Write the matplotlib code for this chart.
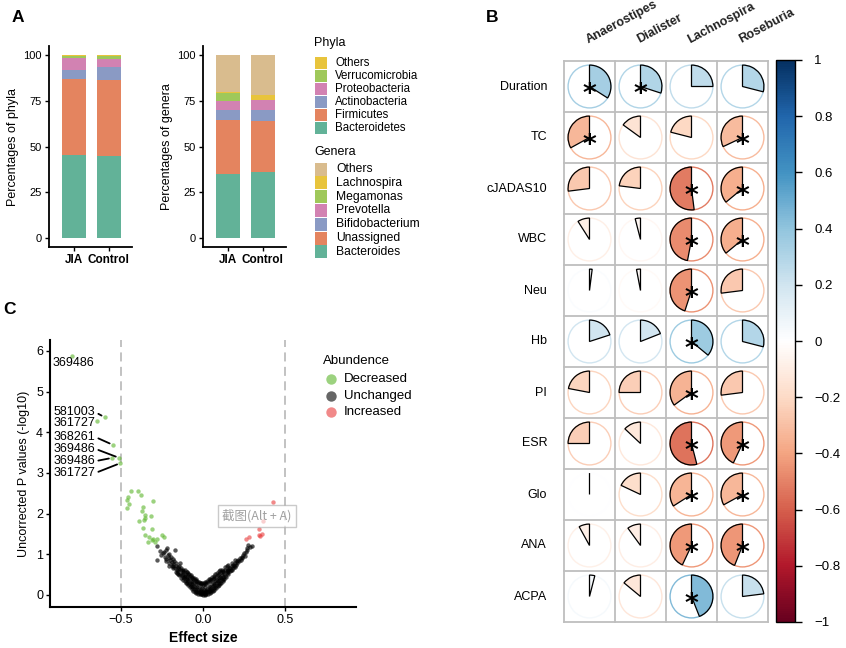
import numpy as np
import matplotlib
matplotlib.use('Agg')
import matplotlib.pyplot as plt
from matplotlib.patches import Wedge, Circle, Rectangle
from matplotlib.colors import LinearSegmentedColormap, Normalize
from matplotlib.cm import ScalarMappable

plt.rcParams['font.family'] = ['Liberation Sans', 'DejaVu Sans']

W, H = 846, 648

# ---------------- panel A data ----------------
groups = ['JIA', 'Control']
phyla = ['Bacteroidetes', 'Firmicutes', 'Actinobacteria', 'Proteobacteria', 'Verrucomicrobia', 'Others']
phyla_jia = [45.2, 41.6, 5.2, 6.7, 0.9, 0.4]
phyla_ctrl = [44.8, 41.5, 7.1, 4.4, 1.7, 0.5]
phyla_cols = ['#62B298', '#E4845F', '#8A9AC4', '#D282B2', '#9FC85A', '#E8C43C']

genera = ['Bacteroides', 'Unassigned', 'Bifidobacterium', 'Prevotella', 'Megamonas', 'Lachnospira', 'Others']
genera_jia = [35.1, 29.6, 5.1, 5.0, 4.5, 0.3, 20.4]
genera_ctrl = [35.8, 28.0, 6.0, 5.5, 0.3, 2.5, 21.9]
genera_cols = ['#62B298', '#E4845F', '#8A9AC4', '#D282B2', '#9FC85A', '#E8C43C', '#D9BC8E']

# ---------------- panel B data ----------------
taxa = ['Anaerostipes', 'Dialister', 'Lachnospira', 'Roseburia']
clin = ['Duration', 'TC', 'cJADAS10', 'WBC', 'Neu', 'Hb', 'PI', 'ESR', 'Glo', 'ANA', 'ACPA']
corr = [[0.34, 0.30, 0.25, 0.29],
        [-0.33, -0.15, -0.21, -0.32],
        [-0.27, -0.23, -0.52, -0.36],
        [-0.09, -0.04, -0.47, -0.36],
        [0.02, -0.03, -0.45, -0.27],
        [0.20, 0.19, 0.36, 0.29],
        [-0.22, -0.25, -0.35, -0.27],
        [-0.25, -0.13, -0.54, -0.43],
        [0.00, -0.18, -0.34, -0.33],
        [-0.08, -0.10, -0.43, -0.44],
        [0.04, -0.14, 0.44, 0.23]]
sig = [[1, 1, 0, 0],
       [1, 0, 0, 1],
       [0, 0, 1, 1],
       [0, 0, 1, 1],
       [0, 0, 1, 0],
       [0, 0, 1, 0],
       [0, 0, 1, 0],
       [0, 0, 1, 1],
       [0, 0, 1, 1],
       [0, 0, 1, 1],
       [0, 0, 1, 0]]
cb_ticks = [1, 0.8, 0.6, 0.4, 0.2, 0, -0.2, -0.4, -0.6, -0.8, -1]
cb_labels = ['1', '0.8', '0.6', '0.4', '0.2', '0', '\u22120.2', '\u22120.4', '\u22120.6', '\u22120.8', '\u22121']

# ---------------- panel C data ----------------
dec_x = [-0.797, -0.600, -0.646, -0.550, -0.512, -0.553, -0.504,
         -0.439, -0.398, -0.459, -0.466, -0.452, -0.466, -0.378, -0.305, -0.363, -0.369,
         -0.317, -0.356, -0.352, -0.362, -0.388, -0.363, -0.313, -0.352, -0.327, -0.303,
         -0.283, -0.293, -0.333, -0.248, -0.240, -0.314]
dec_y = [5.87, 4.37, 4.28, 3.69, 3.37, 3.37, 3.24,
         2.56, 2.56, 2.40, 2.33, 2.24, 2.14, 2.45, 2.32, 2.15, 2.06,
         1.94, 1.97, 1.88, 1.84, 1.81, 1.65, 1.61, 1.47, 1.43, 1.37,
         1.37, 1.31, 1.30, 1.47, 1.43, 1.34]
inc_x = [0.429, 0.366, 0.341, 0.339, 0.362, 0.350, 0.280, 0.260]
inc_y = [2.29, 1.81, 1.61, 1.47, 1.49, 1.45, 1.43, 1.38]
unch_x = [-0.283, -0.262, -0.280, -0.221, -0.171, -0.232, -0.200, -0.180, -0.140, -0.160,
          -0.110, -0.245, -0.255, -0.235, -0.215, -0.210, -0.195, -0.190, -0.185, -0.175,
          -0.170, -0.165, -0.160, -0.155, -0.150, -0.145, -0.140, -0.135, -0.130, -0.125,
          -0.120, -0.205, -0.225, -0.190, -0.150,
          -0.12, -0.12, -0.11, -0.11, -0.11, -0.10, -0.10, -0.10, -0.09, -0.09, -0.09,
          -0.08, -0.08, -0.08, -0.07, -0.07, -0.07, -0.06, -0.06, -0.06, -0.05, -0.05, -0.05,
          -0.04, -0.04, -0.04, -0.03, -0.03, -0.03, -0.02, -0.02, -0.02, -0.01, -0.01, -0.01,
          0.00, 0.00, 0.00, 0.01, 0.01, 0.01, 0.02, 0.02, 0.02, 0.03, 0.03, 0.03,
          0.04, 0.04, 0.04, 0.05, 0.05, 0.05, 0.06, 0.06, 0.06, 0.07, 0.07, 0.07,
          0.08, 0.08, 0.08, 0.09, 0.09, 0.09, 0.10, 0.10, 0.10, 0.11, 0.11, 0.11,
          0.12, 0.12, 0.12,
          -0.115, -0.095, -0.085, -0.075, -0.065, -0.055, -0.045, -0.035, -0.025, -0.015,
          -0.005, 0.005, 0.015, 0.025, 0.035, 0.045, 0.055, 0.065, 0.075, 0.085, 0.095,
          0.105, 0.115, 0.015, -0.005,
          0.130, 0.130, 0.135, 0.140, 0.144, 0.150, 0.150, 0.155, 0.160, 0.165, 0.165,
          0.170, 0.175, 0.180, 0.185, 0.190, 0.195, 0.200, 0.205, 0.210, 0.215, 0.220,
          0.226, 0.230, 0.235, 0.240, 0.246, 0.250, 0.255, 0.260, 0.266, 0.270, 0.276,
          0.285, 0.297,
          -0.125, -0.125, -0.105, -0.105, -0.095, -0.095, -0.085, -0.085, -0.075, -0.075,
          -0.065, -0.065, -0.055, -0.055, -0.045, -0.045, -0.035, -0.035, -0.025, -0.025,
          -0.015, -0.015, -0.005, -0.005, 0.005, 0.005, 0.015, 0.015, 0.025, 0.025,
          0.035, 0.035, 0.045, 0.045, 0.055, 0.055, 0.065, 0.065, 0.075, 0.075,
          0.085, 0.085, 0.095, 0.095, 0.105, 0.105, 0.115, 0.115, 0.125, 0.125,
          0.135, 0.135, 0.145, 0.145, 0.155, 0.155, 0.175, 0.175, 0.195, 0.195,
          -0.135, -0.135, -0.145, -0.145, -0.165, -0.165, -0.185, -0.185, -0.205, -0.205,
          -0.225, -0.225]
unch_y = [1.19, 1.09, 0.86, 1.15, 1.10, 0.94, 0.86, 0.70, 0.78, 0.53,
          0.45, 1.02, 0.98, 1.06, 0.98, 0.90, 0.92, 0.80, 0.76, 0.82,
          0.66, 0.72, 0.62, 0.68, 0.58, 0.64, 0.52, 0.60, 0.48, 0.55,
          0.44, 0.78, 0.88, 0.72, 0.50,
          0.52, 0.62, 0.34, 0.47, 0.60, 0.28, 0.40, 0.55, 0.24, 0.36, 0.50,
          0.19, 0.30, 0.46, 0.14, 0.26, 0.42, 0.10, 0.22, 0.40, 0.07, 0.18, 0.36,
          0.05, 0.15, 0.33, 0.03, 0.12, 0.30, 0.02, 0.10, 0.28, 0.01, 0.09, 0.26,
          0.00, 0.08, 0.25, 0.01, 0.09, 0.27, 0.02, 0.10, 0.29, 0.03, 0.12, 0.31,
          0.05, 0.14, 0.34, 0.07, 0.17, 0.37, 0.10, 0.21, 0.39, 0.13, 0.25, 0.42,
          0.17, 0.29, 0.45, 0.21, 0.33, 0.49, 0.25, 0.37, 0.52, 0.30, 0.41, 0.55,
          0.34, 0.45, 0.58,
          0.42, 0.33, 0.42, 0.22, 0.32, 0.15, 0.26, 0.08, 0.20, 0.05,
          0.16, 0.04, 0.18, 0.06, 0.22, 0.09, 0.27, 0.16, 0.34, 0.23, 0.42,
          0.30, 0.48, 0.00, 0.02,
          0.40, 0.52, 0.60, 0.44, 0.53, 0.62, 0.50, 0.55, 0.66, 0.58, 0.66,
          0.62, 0.70, 0.66, 0.74, 0.70, 0.78, 0.74, 0.82, 0.78, 0.86, 0.82,
          0.90, 0.86, 0.94, 0.90, 0.98, 1.02, 0.96, 1.06, 1.10, 1.14, 1.23,
          1.18, 1.19,
          0.36, 0.58, 0.30, 0.50, 0.45, 0.56, 0.26, 0.52, 0.35, 0.48,
          0.18, 0.44, 0.28, 0.42, 0.10, 0.38, 0.18, 0.34, 0.06, 0.32,
          0.14, 0.30, 0.06, 0.28, 0.12, 0.30, 0.08, 0.32, 0.14, 0.34,
          0.10, 0.38, 0.18, 0.40, 0.12, 0.44, 0.28, 0.46, 0.20, 0.50,
          0.36, 0.54, 0.28, 0.58, 0.44, 0.60, 0.36, 0.62, 0.40, 0.56,
          0.46, 0.68, 0.58, 0.70, 0.62, 0.74, 0.60, 0.78, 0.68, 0.86,
          0.42, 0.66, 0.48, 0.72, 0.56, 0.78, 0.66, 0.88, 0.72, 1.00,
          0.84, 1.10]
lab_text = ['369486', '581003', '361727', '368261', '369486', '369486', '361727']
lab_pos = [(-0.915, 5.70), (-0.655, 4.49), (-0.655, 4.22), (-0.655, 3.88),
           (-0.655, 3.59), (-0.655, 3.29), (-0.655, 3.00)]
lab_seg = [False, True, False, True, True, True, True]

fig = plt.figure(figsize=(W / 100, H / 100), dpi=100)


def px_axes(l, t, r, b):
    return fig.add_axes([l / W, 1 - b / H, (r - l) / W, (b - t) / H])


def style_axes(ax, lw=1.3):
    for s in ['top', 'right']:
        ax.spines[s].set_visible(False)
    for s in ['left', 'bottom']:
        ax.spines[s].set_linewidth(lw)
    ax.tick_params(length=3, width=1, colors='black', pad=2)


# ---------------- panel A ----------------
def stacked(ax, vals_a, vals_b, cols, ylabel):
    x = np.arange(1, len(groups) + 1)
    bottom = np.zeros(len(groups))
    for a, b, c in zip(vals_a, vals_b, cols):
        h = np.array([a, b])
        ax.bar(x, h, 0.7, bottom=bottom, color=c, linewidth=0)
        bottom += h
    ax.set_xlim(0.28, 2.67)
    ax.set_ylim(-5, 105)
    ax.set_yticks([0, 25, 50, 75, 100])
    ax.set_xticks(x)
    ax.set_xticklabels(groups, fontweight='bold', fontsize=8.5)
    ax.tick_params(axis='y', labelsize=8)
    ax.set_ylabel(ylabel, fontsize=9, labelpad=3)
    style_axes(ax)


axP = px_axes(49, 46, 132, 247)
stacked(axP, phyla_jia, phyla_ctrl, phyla_cols, 'Percentages of phyla')
axG = px_axes(203, 46, 286, 247)
stacked(axG, genera_jia, genera_ctrl, genera_cols, 'Percentages of genera')

# ---------------- panel B ----------------
cmap = LinearSegmentedColormap.from_list(
    'corrRdBu', ['#67001F', '#B2182B', '#D6604D', '#F4A582', '#FDDBC7', '#FFFFFF',
                 '#D1E5F0', '#92C5DE', '#4393C3', '#2166AC', '#053061'])
norm = Normalize(-1, 1)

axB = px_axes(564, 61, 768, 622)
axB.set_xlim(0, len(taxa))
axB.set_ylim(0, len(clin))
axB.axis('off')
nrow = len(clin)
for i, row in enumerate(corr):
    for j, r in enumerate(row):
        cx, cy = j + 0.5, nrow - i - 0.5
        col = cmap(norm(r))
        axB.add_patch(Circle((cx, cy), 0.42, fill=False, ec=col, lw=1.0))
        if r >= 0:
            t1, t2 = 90 - 360 * r, 90
        else:
            t1, t2 = 90, 90 - 360 * r
        axB.add_patch(Wedge((cx, cy), 0.42, t1, t2, fc=col, ec='black', lw=0.9))
        if sig[i][j]:
            axB.text(cx, cy - 0.17, '*', ha='center', va='center', fontsize=19,
                     fontweight='bold', family='DejaVu Sans')
for k in range(len(taxa) + 1):
    axB.plot([k, k], [0, nrow], color='#BEBEBE', lw=1.3, clip_on=False, zorder=0.5)
for k in range(nrow + 1):
    axB.plot([0, len(taxa)], [k, k], color='#BEBEBE', lw=1.3, clip_on=False, zorder=0.5)
for i, name in enumerate(clin):
    axB.text(-0.33, nrow - i - 0.5, name, ha='right', va='center', fontsize=9)
for j, name in enumerate(taxa):
    axB.text(j + 0.5, nrow + 0.3, name, rotation=28, rotation_mode='anchor',
             ha='left', va='bottom', fontsize=9, fontweight='bold', color='#222222',
             clip_on=False)

axCB = px_axes(776, 60, 795, 622)
cb = fig.colorbar(ScalarMappable(norm=norm, cmap=cmap), cax=axCB)
cb.set_ticks(cb_ticks)
cb.set_ticklabels(cb_labels)
cb.outline.set_linewidth(1.0)
axCB.tick_params(length=5, width=1, pad=9, labelsize=9.5)

# ---------------- panel C ----------------
axC = px_axes(50, 340, 356, 607)
axC.axvline(-0.5, color='#BDBDBD', lw=1.3, ls=(0, (5, 3)), zorder=1)
axC.axvline(0.5, color='#BDBDBD', lw=1.3, ls=(0, (5, 3)), zorder=1)
axC.scatter(unch_x, unch_y, s=10, c='black', alpha=0.65, lw=0, zorder=2)
axC.scatter(dec_x, dec_y, s=10, c='#5BB52A', alpha=0.6, lw=0, zorder=2)
axC.scatter(inc_x, inc_y, s=10, c='#E83A3A', alpha=0.6, lw=0, zorder=2)
for k, (t, (tx, ty), seg) in enumerate(zip(lab_text, lab_pos, lab_seg)):
    ha = 'left' if k == 0 else 'right'
    if seg:
        axC.annotate(t, xy=(dec_x[k], dec_y[k]), xytext=(tx, ty), ha=ha, va='center',
                     fontsize=9, arrowprops=dict(arrowstyle='-', lw=1.3, color='black',
                                                 relpos=(1, 0.5), shrinkA=0, shrinkB=2.5))
    else:
        axC.text(tx, ty, t, ha=ha, va='center', fontsize=9)
axC.set_xlim(-0.933, 0.933)
axC.set_ylim(-0.3, 6.27)
axC.set_xticks([-0.5, 0, 0.5])
axC.set_xticklabels(['\u22120.5', '0.0', '0.5'])
axC.set_yticks(range(7))
axC.tick_params(labelsize=9)
axC.set_xlabel('Effect size', fontsize=10, fontweight='bold', labelpad=4)
axC.set_ylabel('Uncorrected P values (-log10)', fontsize=9, labelpad=4)
style_axes(axC, 1.5)

# ---------------- overlay: legends, panel letters ----------------
ov = fig.add_axes([0, 0, 1, 1])
ov.set_xlim(0, W)
ov.set_ylim(H, 0)
ov.axis('off')

for letter, (lx, ly) in zip('ABC', [(18, 18), (492, 18), (10, 310)]):
    ov.text(lx, ly, letter, fontsize=12.5, fontweight='bold', ha='center', va='center')

ov.text(314, 43, 'Phyla', fontsize=9, va='center')
for k, (name, c) in enumerate(zip(phyla[::-1], phyla_cols[::-1])):
    yc = 63 + k * 13
    ov.add_patch(Rectangle((315, yc - 6), 12, 12, fc=c, ec='none'))
    ov.text(335, yc, name, fontsize=8.3, va='center')
ov.text(314, 152, 'Genera', fontsize=9, va='center')
for k, (name, c) in enumerate(zip(genera[::-1], genera_cols[::-1])):
    yc = 169 + k * 13.8
    ov.add_patch(Rectangle((315, yc - 6.5), 12, 13, fc=c, ec='none'))
    ov.text(336, yc, name, fontsize=8.7, va='center')

ov.text(323, 361, 'Abundence', fontsize=9.5, va='center')
for k, (name, c) in enumerate(zip(['Decreased', 'Unchanged', 'Increased'],
                                  ['#5BB52A', 'black', '#E83A3A'])):
    yc = 379 + k * 16.5
    ov.plot([331], [yc], 'o', ms=7.5, color=c, alpha=0.6, mew=0)
    ov.text(344, yc, name, fontsize=9.5, va='center')

ov.text(257, 516, '\u622a\u56fe(Alt + A)', fontsize=9, color='#A0A0A0', ha='center', va='center',
        family=['Noto Sans CJK SC', 'DejaVu Sans'],
        bbox=dict(boxstyle='square,pad=0.35', fc='white', alpha=0.6, ec='#A8A8A8', lw=1))

fig.savefig('out.png', dpi=100)
